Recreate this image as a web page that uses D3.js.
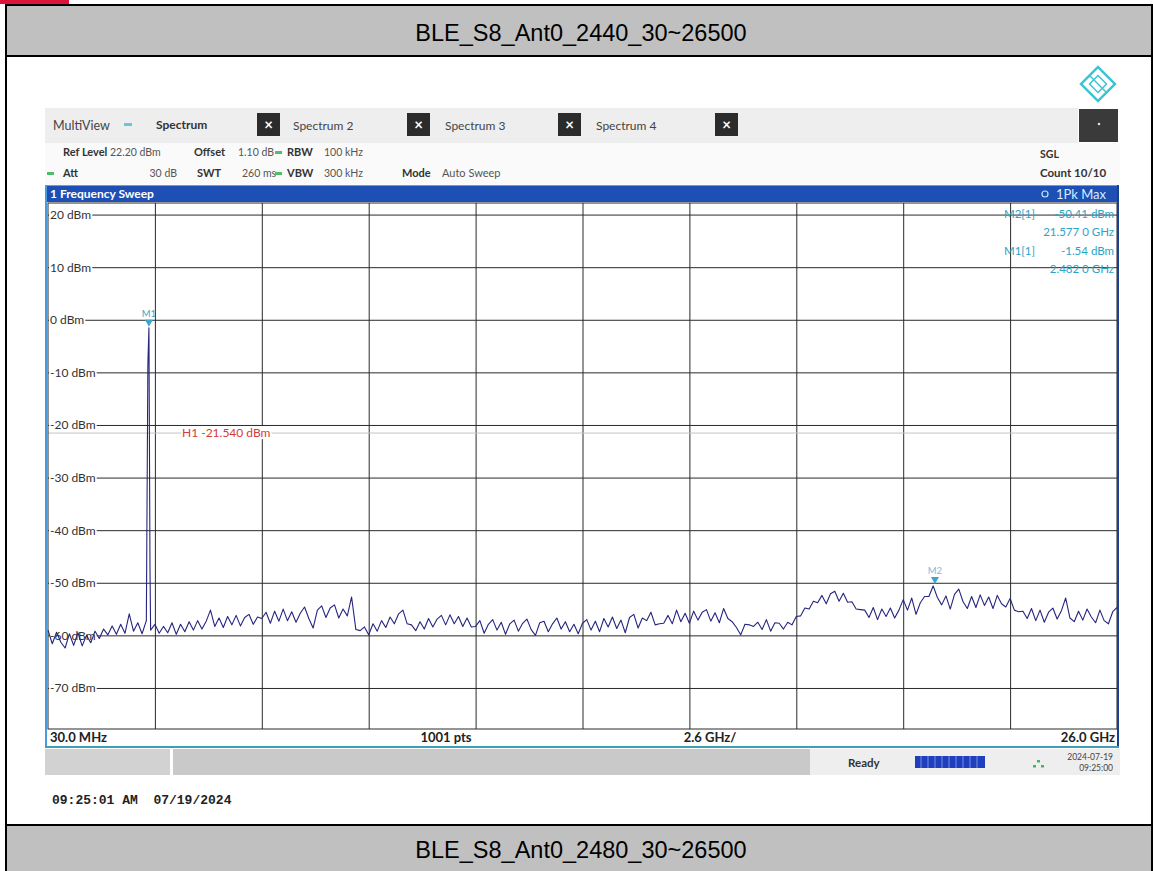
<!DOCTYPE html>
<html><head><meta charset="utf-8">
<script src="https://cdn.jsdelivr.net/npm/d3@7"></script>
<style>body{margin:0;background:#fff}svg{display:block}</style>
</head><body><svg id="c" width="1153" height="871"></svg>
<script>
// ---------- data ----------
const topTitle = "BLE_S8_Ant0_2440_30~26500";
const bottomTitle = "BLE_S8_Ant0_2480_30~26500";
const startGHz = 0.03, stopGHz = 26.0;
const refLevel = 22.2, rangeDb = 100;
const yTicks = [20, 10, 0, -10, -20, -30, -40, -50, -60, -70];
const yTickLabels = ["20 dBm","10 dBm","0 dBm","-10 dBm","-20 dBm","-30 dBm","-40 dBm","-50 dBm","-60 dBm","-70 dBm"];
// noise floor trace, evenly spaced sweep points from start to stop (dBm)
const noiseLevels = [
 -59.0,-61.6,-59.4,-61.3,-62.4,-59.7,-61.9,-59.5,-62.0,-60.0,-61.4,-59.2,-60.6,
 -58.8,-59.9,-58.2,-59.8,-57.9,-59.6,-55.9,-59.2,-57.6,-59.7,-57.2,
 -59.0,-57.9,-59.6,-58.3,-59.5,-57.6,-59.8,-57.9,-59.3,-57.4,-59.0,-57.2,-58.8,-57.3,
 -55.2,
 -58.3,-56.7,-58.5,-56.4,-58.0,-56.2,-58.2,-56.6,-56.0,-57.9,-56.5,
 -56.8,-55.6,-57.7,-55.4,-57.3,-55.0,-57.2,-55.5,-57.5,-55.8,
 -54.6,-56.8,-58.6,-55.2,-54.4,-56.6,-54.8,-54.2,-56.7,-55.0,-56.3,-52.7,
 -58.9,-59.1,-58.4,-59.9,
 -57.8,-59.2,-57.2,-58.5,-56.5,-57.8,-55.9,-55.2,
 -57.8,-58.0,-59.1,
 -57.4,-58.8,-56.8,-58.4,-56.9,-56.2,-58.0,-56.1,-57.8,-56.4,-58.3,-56.7,
 -58.4,-58.3,-57.2,-59.6,-57.9,-57.0,-59.0,-57.5,-59.8,-57.8,-57.1,-59.2,-57.7,
 -56.9,-58.9,-60.0,-57.6,-57.3,-59.3,-57.8,-56.7,-58.8,-57.4,-59.3,-57.9,-59.7,
 -57.7,-57.0,-59.0,-57.3,-59.3,-56.8,-58.4,-56.5,-58.7,-57.1,-59.5,-56.6,-56.0,-58.6,-56.7,-57.2,-55.6,
 -58.0,-57.8,-57.7,-56.2,-57.8,-55.2,
 -57.4,-55.8,-57.7,-55.4,-57.1,-55.6,-55.1,-57.3,-55.7,-57.6,-54.9,-56.8,-57.4,
 -58.5,-59.9,
 -57.9,-58.0,-58.3,-57.5,-58.9,-57.0,-59.2,-57.6,-57.7,-58.8,-57.5,
 -58.0,-56.4,-56.3,-54.8,-55.0,-53.5,-53.8,
 -52.4,-54.0,-52.1,-51.6,-53.5,-52.0,-53.7,-53.6,
 -55.0,-55.1,-55.2,-56.6,-54.7,-57.0,-55.0,-56.4,-54.8,-56.7,-55.2,
 -53.2,-55.2,-52.9,-56.0,-53.8,-52.6,-52.6,-50.6,-52.8,
 -54.2,-52.5,-55.0,-52.2,-51.2,-53.6,-54.9,
 -52.6,-54.7,-52.3,-54.3,-52.7,-54.9,-52.4,-54.0,-54.6,-53.0,
 -55.2,-55.5,-55.4,-56.8,-54.9,-57.2,-55.2,-57.5,-55.6,-54.8,-56.9,-55.3,
 -52.9,
 -56.7,-57.4,-55.4,-57.1,-55.0,-56.5,-57.6,-55.2,-57.2,-57.8,-55.5,-54.7
];
// carrier (fundamental) points
const carrierFreqs = [2.456, 2.482, 2.508];
const carrierLevels = [-8.5, -1.54, -47.5];
// markers
const markerNames = ["M1", "M2"];
const markerFreqs = [2.482, 21.577];
const markerLevels = [-1.54, -50.41];
const h1Level = -21.54;

// ---------- drawing ----------
const svg = d3.select("#c");
const UI = "Lato, 'Open Sans', sans-serif";

// outer document table
svg.append("rect").attr("x",0).attr("y",0).attr("width",69).attr("height",4).attr("fill","#dc143c");
svg.append("rect").attr("x",6).attr("y",6).attr("width",1147).attr("height",50).attr("fill","#c0c0c0");
svg.append("rect").attr("x",6).attr("y",826).attr("width",1147).attr("height",45).attr("fill","#c0c0c0");
const bl = [[5,5,1153,5],[6,5,6,871],[5,56,1153,56],[5,825,1153,825],[1152,5,1152,871]];
bl.forEach(l=>svg.append("line").attr("x1",l[0]).attr("y1",l[1]).attr("x2",l[2]).attr("y2",l[3]).attr("stroke","#000").attr("stroke-width",2));
svg.append("text").attr("x",581).attr("y",41).attr("text-anchor","middle")
  .attr("font-family","'Liberation Sans', Arial, sans-serif").attr("font-size",23.5).attr("fill","#000").text(topTitle);
svg.append("text").attr("x",581).attr("y",858).attr("text-anchor","middle")
  .attr("font-family","'Liberation Sans', Arial, sans-serif").attr("font-size",23.5).attr("fill","#000").text(bottomTitle);

// instrument screen
const scr = svg.append("g");
scr.append("rect").attr("x",45).attr("y",143).attr("width",1075).attr("height",42).attr("fill","#fafafa");
scr.append("rect").attr("x",45).attr("y",108).attr("width",1033).attr("height",35).attr("fill","#eeeeee");
// logo
const lg = scr.append("g").attr("transform","translate(1098,84) rotate(45)");
lg.append("rect").attr("x",-12).attr("y",-12).attr("width",24).attr("height",24).attr("fill","none").attr("stroke","#3cc4d4").attr("stroke-width",2.5);
lg.append("rect").attr("x",-6).attr("y",-6).attr("width",12).attr("height",12).attr("fill","none").attr("stroke","#3cc4d4").attr("stroke-width",1.5);
lg.append("line").attr("x1",-12).attr("y1",0).attr("x2",12).attr("y2",0).attr("stroke","#3cc4d4").attr("stroke-width",1.5);
// toolbar
const t = (x,y,s,opt={})=>scr.append("text").attr("x",x).attr("y",y).attr("font-family",UI)
  .attr("font-size",opt.size||11.5).attr("font-weight",opt.bold?"bold":"normal").attr("fill",opt.fill||"#333")
  .attr("text-anchor",opt.anchor||"start").text(s);
t(53,130,"MultiView",{fill:"#444",size:12.5});
scr.append("rect").attr("x",124).attr("y",123).attr("width",8).attr("height",3).attr("fill","#5ccbe0");
t(156,129,"Spectrum",{bold:true,fill:"#333",size:12});
t(293,130,"Spectrum 2",{fill:"#444",size:12});
t(445,130,"Spectrum 3",{fill:"#444",size:12});
t(596,130,"Spectrum 4",{fill:"#444",size:12});
[[257,113],[407,113],[558,113],[715,113]].forEach(([x,y])=>{
  scr.append("rect").attr("x",x).attr("y",y).attr("width",23).attr("height",23).attr("fill","#2b2b2b");
  scr.append("text").attr("x",x+11.5).attr("y",y+17).attr("text-anchor","middle").attr("font-family",UI)
    .attr("font-size",15).attr("font-weight","bold").attr("fill","#fff").text("\u00d7");
});
scr.append("rect").attr("x",1079).attr("y",109).attr("width",39).attr("height",33).attr("fill","#3a3a3a");
scr.append("circle").attr("cx",1099).attr("cy",124).attr("r",1.3).attr("fill","#ddd");
// setting lines
t(63,156,"Ref Level",{bold:true,size:11});
t(110,156,"22.20 dBm",{size:10.5,fill:"#555"});
t(194,156,"Offset",{bold:true,size:11});
t(238,156,"1.10 dB",{size:10.5,fill:"#555"});
scr.append("rect").attr("x",275).attr("y",151).attr("width",7).attr("height",3).attr("fill","#4cbf6a");
t(287,156,"RBW",{bold:true,size:11});
t(324,156,"100 kHz",{size:10.5,fill:"#555"});
scr.append("rect").attr("x",47).attr("y",172).attr("width",7).attr("height",3).attr("fill","#4cbf6a");
t(63,177,"Att",{bold:true,size:11});
t(177,177,"30 dB",{size:10.5,fill:"#555",anchor:"end"});
t(197,177,"SWT",{bold:true,size:11});
t(242,177,"260 ms",{size:10.5,fill:"#555"});
scr.append("rect").attr("x",275).attr("y",172).attr("width",7).attr("height",3).attr("fill","#4cbf6a");
t(287,177,"VBW",{bold:true,size:11});
t(324,177,"300 kHz",{size:10.5,fill:"#555"});
t(402,177,"Mode",{bold:true,size:11});
t(442,177,"Auto Sweep",{size:11,fill:"#555"});
t(1040,158,"SGL",{bold:true,size:10.5});
t(1040,177,"Count 10/10",{bold:true,size:11.5});
// blue title bar
scr.append("rect").attr("x",46).attr("y",185).attr("width",1072).attr("height",17).attr("fill","#1d4fb4");
scr.append("line").attr("x1",46).attr("x2",1118).attr("y1",185.5).attr("y2",185.5).attr("stroke","#45b3d0");
t(50,198,"1 Frequency Sweep",{bold:true,size:12,fill:"#fff"});
scr.append("circle").attr("cx",1045).attr("cy",194).attr("r",3).attr("fill","#1d4fb4").attr("stroke","#bfe6ff").attr("stroke-width",1.2);
t(1106,199,"1Pk Max",{size:13,fill:"#d8ecff",anchor:"end"});

// plot area
const x0 = 48, x1 = 1117, yTop = 203, yBot = 729;
const x = d3.scaleLinear().domain([startGHz, stopGHz]).range([x0, x1]);
const y = d3.scaleLinear().domain([refLevel - rangeDb, refLevel]).range([yBot, yTop]);
scr.append("rect").attr("x",x0).attr("y",yTop).attr("width",x1-x0).attr("height",yBot-yTop).attr("fill","#fff");

const vTicks = d3.range(1,10).map(k => startGHz + k*(stopGHz-startGHz)/10);
const gx = scr.append("g").attr("transform",`translate(0,${yBot})`)
  .call(d3.axisBottom(x).tickValues(vTicks).tickSize(-(yBot-yTop)).tickFormat(""));
gx.select(".domain").remove();
gx.selectAll("line").attr("stroke","#2a2a2a").attr("stroke-width",1);
const gy = scr.append("g").attr("transform",`translate(${x0},0)`)
  .call(d3.axisLeft(y).tickValues(yTicks).tickSize(-(x1-x0)).tickFormat(""));
gy.select(".domain").remove();
gy.selectAll("line").attr("stroke","#2a2a2a").attr("stroke-width",1);

// H1 line
scr.append("line").attr("x1",x0).attr("x2",x1).attr("y1",y(h1Level)).attr("y2",y(h1Level)).attr("stroke","#c4c4c4").attr("stroke-width",1);

// y labels with white backing
const gl = scr.append("g").attr("transform",`translate(${x0},0)`)
  .call(d3.axisRight(y).tickValues(yTicks).tickSize(0).tickPadding(2).tickFormat((d,i)=>yTickLabels[i]));
gl.select(".domain").remove();
gl.selectAll("text").attr("font-family",UI).attr("font-size",12).attr("fill","#333");
gl.selectAll(".tick").each(function(){
  const tx = d3.select(this).select("text").node();
  const b = tx.getBBox();
  d3.select(this).insert("rect","text").attr("x",b.x-1).attr("y",b.y+2).attr("width",b.width+2).attr("height",b.height-4).attr("fill","#fff");
});
// H1 label
const h1t = scr.append("text").attr("x",182).attr("y",y(h1Level)+4).attr("font-family",UI).attr("font-size",12)
  .attr("fill","#d63a3a").text("H1 -21.540 dBm");
const hb = h1t.node().getBBox();
scr.insert("rect", () => h1t.node()).attr("x",hb.x-1).attr("y",hb.y+1).attr("width",hb.width+2).attr("height",hb.height-2).attr("fill","#fff");

// trace
const step = (stopGHz - startGHz)/(noiseLevels.length - 1);
const pts = noiseLevels.map((v,i)=>({f:startGHz + i*step, v}))
  .concat(carrierFreqs.map((f,i)=>({f, v:carrierLevels[i]})))
  .sort((a,b)=>a.f-b.f);
scr.append("path").datum(pts).attr("fill","none").attr("stroke","#25257f").attr("stroke-width",1.1)
  .attr("stroke-linejoin","round")
  .attr("d", d3.line().x(d=>x(d.f)).y(d=>y(d.v)));

// markers
markerNames.forEach((m,i)=>{
  const mx = x(markerFreqs[i]), my = y(markerLevels[i]);
  scr.append("path").attr("d",`M${mx-4},${my-8}L${mx+4},${my-8}L${mx},${my-1}Z`).attr("fill","#3aa6cc");
  scr.append("text").attr("x",mx).attr("y",my-11).attr("text-anchor","middle").attr("font-family",UI)
    .attr("font-size",9.5).attr("fill", i===0?"#3aa6cc":"#8ab4d8").text(m);
});
// marker table
const mt = (xx,yy,s,anchor)=>scr.append("text").attr("x",xx).attr("y",yy).attr("font-family",UI)
  .attr("font-size",11.5).attr("fill","#2ba3c9").attr("text-anchor",anchor).text(s);
const mtab = [["M2[1]", "-50.41 dBm", "21.577 0 GHz"],["M1[1]", "-1.54 dBm", "2.482 0 GHz"]];
mtab.forEach((r,i)=>{
  const by = 218 + i*37;
  mt(1004,by,r[0],"start"); mt(1114,by,r[1],"end"); mt(1114,by+18,r[2],"end");
});

// frame
scr.append("rect").attr("x",x0).attr("y",yTop).attr("width",x1-x0).attr("height",yBot-yTop).attr("fill","none").attr("stroke","#2a2a2a");
scr.append("rect").attr("x",46).attr("y",730).attr("width",1072).attr("height",16).attr("fill","#fff");
scr.append("line").attr("x1",46).attr("x2",46).attr("y1",185).attr("y2",747).attr("stroke","#4a9ae0").attr("stroke-width",2);
scr.append("line").attr("x1",1118).attr("x2",1118).attr("y1",185).attr("y2",747).attr("stroke","#1b3f8f").attr("stroke-width",2);
scr.append("line").attr("x1",45).attr("x2",1119).attr("y1",747).attr("y2",747).attr("stroke","#3d9fb2").attr("stroke-width",2);
t(50,742,"30.0 MHz",{bold:true,size:13,fill:"#222"});
t(446,742,"1001 pts",{bold:true,size:13,fill:"#222",anchor:"middle"});
t(710,742,"2.6 GHz/",{bold:true,size:13,fill:"#222",anchor:"middle"});
t(1115,742,"26.0 GHz",{bold:true,size:13,fill:"#222",anchor:"end"});

// status bar
scr.append("rect").attr("x",45).attr("y",749).attr("width",125).attr("height",26).attr("fill","#d2d2d2");
scr.append("rect").attr("x",173).attr("y",749).attr("width",637).attr("height",26).attr("fill","#c9c9c9");
scr.append("rect").attr("x",810).attr("y",749).attr("width",310).attr("height",26).attr("fill","#eeeeee");
t(848,767,"Ready",{bold:true,size:11.5,fill:"#333"});
scr.append("rect").attr("x",915).attr("y",756).attr("width",70).attr("height",12).attr("fill","#1f3fbf");
d3.range(9).forEach(k=>scr.append("line").attr("x1",921+k*7).attr("x2",921+k*7).attr("y1",756).attr("y2",768).attr("stroke","#8fa4e8").attr("stroke-width",0.8));
[[1033,765],[1041,765],[1037,760]].forEach(([a,b])=>scr.append("rect").attr("x",a).attr("y",b).attr("width",3).attr("height",2.5).attr("fill","#3db85a"));
t(1113,760,"2024-07-19",{size:8.5,fill:"#444",anchor:"end"});
t(1113,771,"09:25:00",{size:8.5,fill:"#444",anchor:"end"});

// capture timestamp
svg.append("text").attr("x",52).attr("y",804).attr("font-family","'Liberation Mono', 'Courier New', monospace")
  .attr("font-size",13).attr("font-weight","bold").attr("fill","#222").attr("xml:space","preserve").style("white-space","pre")
  .text("09:25:01 AM  07/19/2024");
</script></body></html>
